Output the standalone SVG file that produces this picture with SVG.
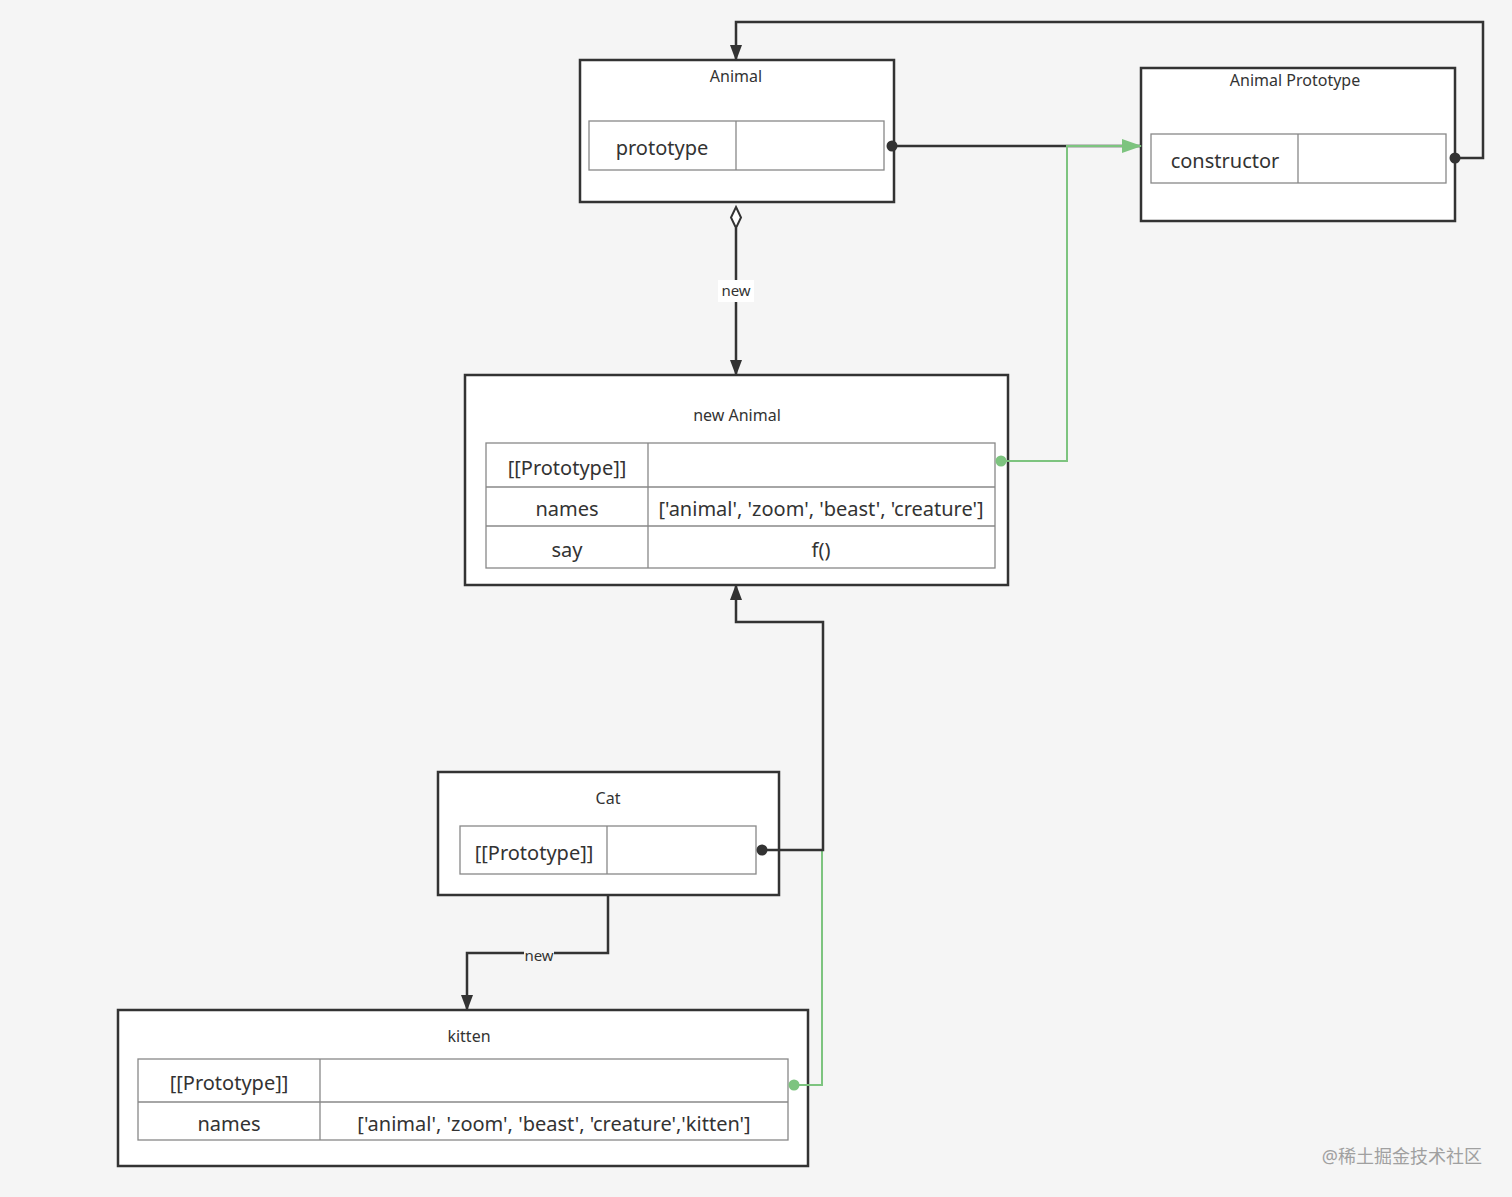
<svg xmlns="http://www.w3.org/2000/svg" width="1512" height="1197" viewBox="0 0 1512 1197">
<defs>
<style>
.box{fill:#fff;stroke:#333;stroke-width:2.5}
.cell{fill:#fff;stroke:#888;stroke-width:1.3}
.title{font-family:"Noto Sans","Open Sans",sans-serif;font-size:16px;fill:#333;text-anchor:middle}
.txt{font-family:"Noto Sans","Open Sans",sans-serif;font-size:20px;fill:#333;text-anchor:middle}
.lbl{font-family:"Noto Sans","Open Sans",sans-serif;font-size:15px;fill:#333;text-anchor:middle}
.k{fill:none;stroke:#333;stroke-width:2.5}
.g{fill:none;stroke:#7dc47f;stroke-width:2}
.dk{fill:#333}
.dg{fill:#7dc47f}
</style>
<marker id="ak" viewBox="0 0 16 12" refX="15" refY="6" markerWidth="16" markerHeight="12" markerUnits="userSpaceOnUse" orient="auto"><path d="M0,0L16,6L0,12z" fill="#333"/></marker>
<marker id="ag" viewBox="0 0 20 14" refX="19" refY="7" markerWidth="20" markerHeight="14" markerUnits="userSpaceOnUse" orient="auto"><path d="M0,0L20,7L0,14z" fill="#7dc47f"/></marker>
</defs>
<rect width="1512" height="1197" fill="#f5f5f5"/>

<g id="animal">
<rect class="box" x="580" y="60" width="314" height="142"/>
<text class="title" x="736" y="82">Animal</text>
<rect class="cell" x="589" y="121" width="295" height="49"/>
<line class="cell" x1="736" y1="121" x2="736" y2="170"/>
<text class="txt" x="662" y="155">prototype</text>
</g>

<g id="animal-prototype">
<rect class="box" x="1141" y="68" width="314" height="153"/>
<text class="title" x="1295" y="86">Animal Prototype</text>
<rect class="cell" x="1151" y="134" width="295" height="49"/>
<line class="cell" x1="1298" y1="134" x2="1298" y2="183"/>
<text class="txt" x="1225" y="168">constructor</text>
</g>

<g id="new-animal">
<rect class="box" x="465" y="375" width="543" height="210"/>
<text class="title" x="737" y="421">new Animal</text>
<rect class="cell" x="486" y="443" width="509" height="125"/>
<line class="cell" x1="486" y1="487" x2="995" y2="487"/>
<line class="cell" x1="486" y1="526" x2="995" y2="526"/>
<line class="cell" x1="648" y1="443" x2="648" y2="568"/>
<text class="txt" x="567" y="475">[[Prototype]]</text>
<text class="txt" x="567" y="516">names</text>
<text class="txt" x="567" y="557">say</text>
<text class="txt" x="821" y="516">['animal', 'zoom', 'beast', 'creature']</text>
<text class="txt" x="821" y="557">f()</text>
</g>

<g id="cat">
<rect class="box" x="438" y="772" width="341" height="123"/>
<text class="title" x="608" y="804">Cat</text>
<rect class="cell" x="460" y="826" width="296" height="48"/>
<line class="cell" x1="607" y1="826" x2="607" y2="874"/>
<text class="txt" x="534" y="860">[[Prototype]]</text>
</g>

<g id="kitten">
<rect class="box" x="118" y="1010" width="690" height="156"/>
<text class="title" x="469" y="1042">kitten</text>
<rect class="cell" x="138" y="1059" width="650" height="81"/>
<line class="cell" x1="138" y1="1102" x2="788" y2="1102"/>
<line class="cell" x1="320" y1="1059" x2="320" y2="1140"/>
<text class="txt" x="229" y="1090">[[Prototype]]</text>
<text class="txt" x="229" y="1131">names</text>
<text class="txt" x="554" y="1131">['animal', 'zoom', 'beast', 'creature','kitten']</text>
</g>

<g id="connectors">
<path class="k" d="M892,146H1141"/>
<path class="g" d="M1001,461H1067V146H1141" marker-end="url(#ag)"/>
<path class="k" d="M1455,158H1483V22H736V60" marker-end="url(#ak)"/>
<path class="k" d="M736,228V375" marker-end="url(#ak)"/>
<path d="M736,207L741,217.5L736,228L731,217.5z" fill="#fff" stroke="#333" stroke-width="2"/>
<rect x="718" y="280" width="36" height="22" fill="#fff"/>
<text class="lbl" x="736" y="296">new</text>
<path class="g" d="M794,1085H822V850"/>
<path class="k" d="M762,850H823V622H736V585" marker-end="url(#ak)"/>
<path class="k" d="M608,895V953H467V1010" marker-end="url(#ak)"/>
<rect x="524" y="946" width="30" height="18" fill="#f5f5f5"/>
<text class="lbl" x="539" y="961">new</text>
<circle class="dk" cx="892" cy="146" r="5.5"/>
<circle class="dk" cx="1455" cy="158" r="5.5"/>
<circle class="dg" cx="1001" cy="461" r="5.5"/>
<circle class="dk" cx="762" cy="850" r="5.5"/>
<circle class="dg" cx="794" cy="1085" r="5.5"/>
</g>

<text x="1482" y="1163" font-family="'Noto Sans','Noto Sans CJK SC',sans-serif" font-size="18" fill="#a0a0a0" text-anchor="end">@稀土掘金技术社区</text>
</svg>
